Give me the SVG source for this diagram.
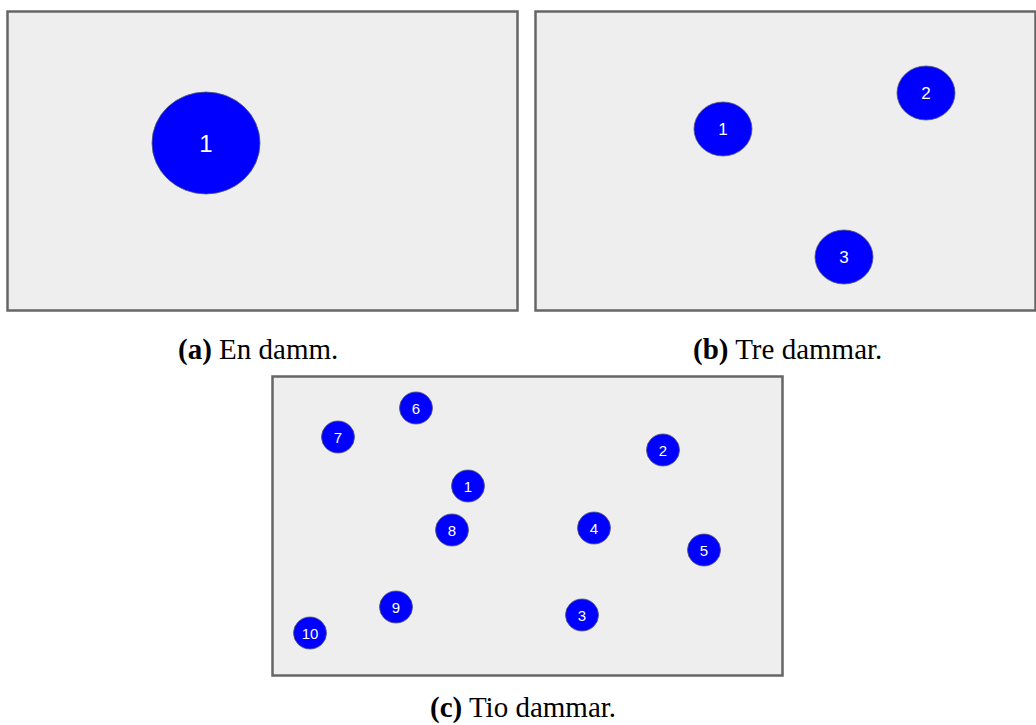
<svg xmlns="http://www.w3.org/2000/svg" width="1036" height="725" viewBox="0 0 1036 725">
<style>
.panel{fill:#eeeeee;stroke:#666666;stroke-width:2.5}
.dam{fill:#0000ff;stroke:#555577;stroke-width:0.8}
.lbl{fill:#ffffff;font-family:"Liberation Sans",Arial,sans-serif;text-anchor:middle;dominant-baseline:central}
.cap{fill:#000000;font-family:"Liberation Serif","Times New Roman",serif;font-size:29px}
.b{font-weight:bold}
</style>
<rect width="1036" height="725" fill="#ffffff"/>
<g id="panel-a">
<rect class="panel" x="7.5" y="11.5" width="510" height="299"/>
<g id="a-dam-1"><ellipse class="dam" cx="206" cy="143" rx="54" ry="51"/><text class="lbl" x="206" y="143" font-size="24">1</text></g>
<text class="cap" x="178" y="359"><tspan class="b">(a)</tspan> En damm.</text>
</g>
<g id="panel-b">
<rect class="panel" x="535.5" y="11.5" width="500" height="299"/>
<g id="b-dam-1"><ellipse class="dam" cx="723" cy="129" rx="29" ry="27"/><text class="lbl" x="723" y="129" font-size="17">1</text></g>
<g id="b-dam-2"><ellipse class="dam" cx="926" cy="93" rx="29" ry="27"/><text class="lbl" x="926" y="93" font-size="17">2</text></g>
<g id="b-dam-3"><ellipse class="dam" cx="844" cy="257" rx="29" ry="27"/><text class="lbl" x="844" y="257" font-size="17">3</text></g>
<text class="cap" x="693" y="359"><tspan class="b">(b)</tspan> Tre dammar.</text>
</g>
<g id="panel-c">
<rect class="panel" x="272.5" y="376.5" width="510" height="299"/>
<g id="c-dam-1"><ellipse class="dam" cx="468" cy="486" rx="16.5" ry="16"/><text class="lbl" x="468" y="486" font-size="15">1</text></g>
<g id="c-dam-2"><ellipse class="dam" cx="663" cy="450" rx="16.5" ry="16"/><text class="lbl" x="663" y="450" font-size="15">2</text></g>
<g id="c-dam-3"><ellipse class="dam" cx="582" cy="615" rx="16.5" ry="16"/><text class="lbl" x="582" y="615" font-size="15">3</text></g>
<g id="c-dam-4"><ellipse class="dam" cx="594" cy="528" rx="16.5" ry="16"/><text class="lbl" x="594" y="528" font-size="15">4</text></g>
<g id="c-dam-5"><ellipse class="dam" cx="704" cy="550" rx="16.5" ry="16"/><text class="lbl" x="704" y="550" font-size="15">5</text></g>
<g id="c-dam-6"><ellipse class="dam" cx="416" cy="408" rx="16.5" ry="16"/><text class="lbl" x="416" y="408" font-size="15">6</text></g>
<g id="c-dam-7"><ellipse class="dam" cx="338" cy="437" rx="16.5" ry="16"/><text class="lbl" x="338" y="437" font-size="15">7</text></g>
<g id="c-dam-8"><ellipse class="dam" cx="452" cy="530" rx="16.5" ry="16"/><text class="lbl" x="452" y="530" font-size="15">8</text></g>
<g id="c-dam-9"><ellipse class="dam" cx="396" cy="607" rx="16.5" ry="16"/><text class="lbl" x="396" y="607" font-size="15">9</text></g>
<g id="c-dam-10"><ellipse class="dam" cx="310" cy="633" rx="16.5" ry="16"/><text class="lbl" x="310" y="633" font-size="15">10</text></g>
<text class="cap" x="430" y="717"><tspan class="b">(c)</tspan> Tio dammar.</text>
</g>
<g id="connectors"/>
</svg>
